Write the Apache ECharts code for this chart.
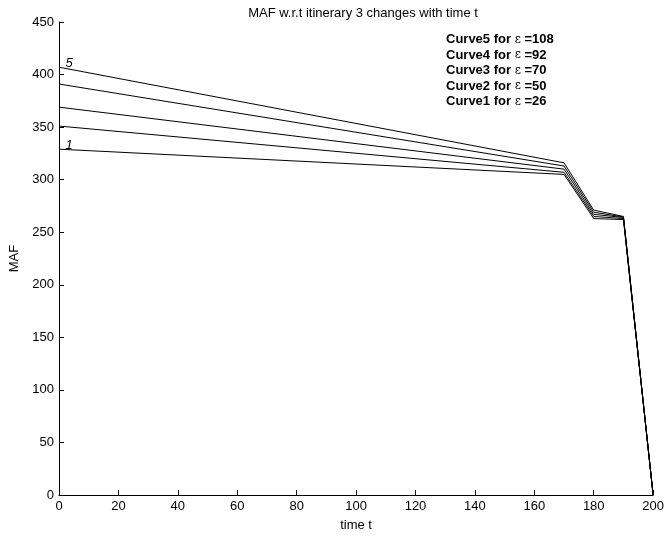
<!DOCTYPE html>
<html>
<head>
<meta charset="utf-8">
<script src="https://cdn.jsdelivr.net/npm/echarts@6/dist/echarts.min.js"></script>
<style>
  html, body { margin: 0; padding: 0; background: #fff; }
  #chart { width: 667px; height: 537px; }
</style>
</head>
<body>
<div id="chart"></div>
<script>
// time points and curves
var times = [0, 170, 180, 190, 200];
var curve1 = [329, 305, 263, 262, 0];
var curve2 = [351, 307, 265, 263, 0];
var curve3 = [369, 310, 267, 264, 0];
var curve4 = [391, 313, 269, 264.5, 0];
var curve5 = [407, 316, 271, 265, 0];
var curves = [curve1, curve2, curve3, curve4, curve5];
var eps = [26, 50, 70, 92, 108];

var font = 'Liberation Sans, Arial, sans-serif';

function pairs(vals) {
  var out = [];
  for (var i = 0; i < times.length; i++) out.push([times[i], vals[i]]);
  return out;
}

var series = [];
for (var c = 0; c < curves.length; c++) {
  var s = {
    type: 'line',
    data: pairs(curves[c]),
    symbol: 'none',
    lineStyle: { color: '#000', width: 1 },
    animation: false
  };
  if (c == 0 || c == 4) {
    s.markPoint = {
      symbol: 'circle', symbolSize: 1,
      itemStyle: { color: 'rgba(0,0,0,0)' },
      data: [{ coord: [0, curves[c][0]] }],
      label: {
        show: true, position: 'inside', formatter: String(c + 1), color: '#000',
        fontFamily: font, fontSize: 13, fontStyle: 'italic',
        offset: [10, -4]
      }
    };
  }
  series.push(s);
}

// legend text block, top line is curve 5
var legendTxt = [];
for (var k = 4; k >= 0; k--) {
  legendTxt.push({
    type: 'text', left: 446, top: 33 + (4 - k) * 15.6,
    style: {
      text: 'Curve' + (k + 1) + ' for {e|ε} =' + eps[k],
      fill: '#000', font: 'bold 13px ' + font,
      rich: { e: { fontFamily: 'DejaVu Serif, serif', fontWeight: 'normal', fontSize: 12, fill: '#000' } }
    }
  });
}

var chart = echarts.init(document.getElementById('chart'));
chart.setOption({
  animation: false,
  title: {
    text: 'MAF w.r.t itinerary 3 changes with time t',
    left: 358, top: 2, textAlign: 'center',
    textStyle: { fontFamily: font, fontSize: 13, fontWeight: 'normal', color: '#000' }
  },
  grid: { left: 59, right: 13, top: 22, bottom: 38 },
  xAxis: {
    type: 'value', min: 0, max: 200, interval: 20,
    name: 'time t', nameLocation: 'middle', nameGap: 24,
    nameTextStyle: { fontFamily: font, fontSize: 13, color: '#000' },
    axisLine: { lineStyle: { color: '#000', width: 1 } },
    axisTick: { inside: true, length: 5, lineStyle: { color: '#000' } },
    axisLabel: { fontFamily: font, fontSize: 13, color: '#000', margin: 5 },
    splitLine: { show: false }
  },
  yAxis: {
    type: 'value', min: 0, max: 450, interval: 50,
    name: 'MAF', nameLocation: 'middle', nameGap: 33,
    nameTextStyle: { fontFamily: font, fontSize: 13, color: '#000' },
    axisLine: { show: true, lineStyle: { color: '#000', width: 1 } },
    axisTick: { show: true, inside: true, length: 5, lineStyle: { color: '#000' } },
    axisLabel: { fontFamily: font, fontSize: 13, color: '#000', margin: 5 },
    splitLine: { show: false }
  },
  graphic: legendTxt,
  series: series
});
</script>
</body>
</html>
